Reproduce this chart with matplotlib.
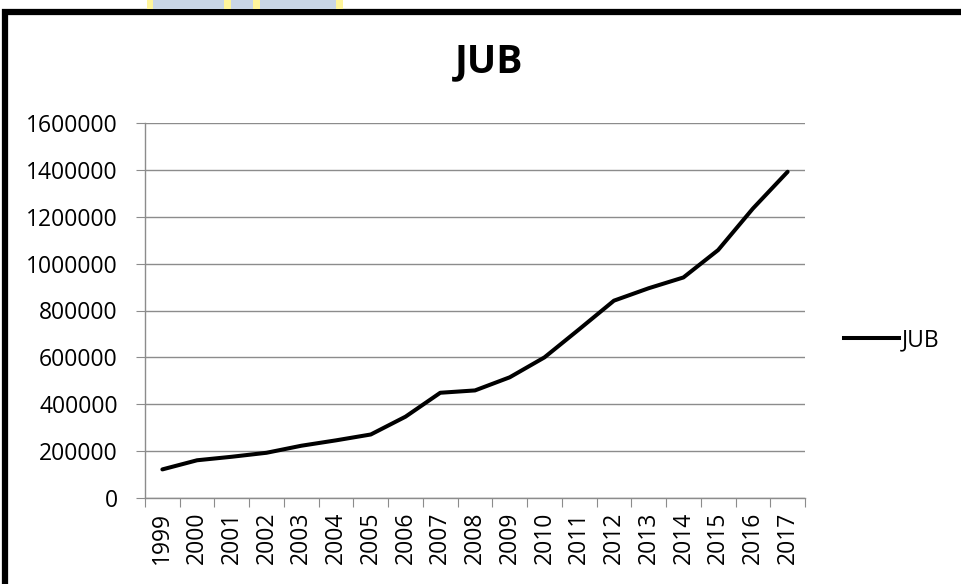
import matplotlib.pyplot as plt
from matplotlib.patches import Rectangle
from matplotlib.lines import Line2D

years = [str(y) for y in range(1999, 2018)]
jub = [122000, 161000, 176000, 193000, 223000, 246000, 271000, 347000, 449000,
       459000, 515000, 600000, 720000, 842000, 895000, 941000, 1058000, 1235000,
       1392000]

plt.rcParams['font.family'] = ['Open Sans', 'DejaVu Sans']

W, H = 962, 584
fig = plt.figure(figsize=(W / 100, H / 100), dpi=100)

# thick black frame, cut off at the right and bottom
fig.patches.append(Rectangle((5 / W, -0.1), 1.2, 1 - 12 / H + 0.1,
                             transform=fig.transFigure, fill=False,
                             edgecolor='black', linewidth=4.5))

# faint banner peeking in at the top
fig.patches.append(Rectangle((150 / W, 1 - 9 / H), 190 / W, 9 / H,
                             transform=fig.transFigure, color='#c9d6e6', lw=0))
for x0, w in [(147, 6), (224, 7), (253, 7), (336, 7)]:
    fig.patches.append(Rectangle((x0 / W, 1 - 9 / H), w / W, 9 / H,
                                 transform=fig.transFigure, color='#fff59a', lw=0))

ax = fig.add_axes([145 / W, 1 - 498 / H, 660 / W, 375 / H])
xs = range(len(years))
ax.plot(xs, jub, color='black', linewidth=2.9, solid_capstyle='round',
        solid_joinstyle='round')

fs = 16.5
ax.set_xlim(-0.5, len(years) - 0.5)
ax.set_ylim(0, 1600000)
ax.set_yticks(range(0, 1600001, 200000))
ax.set_yticklabels([str(v) for v in range(0, 1600001, 200000)], fontsize=fs)
ax.yaxis.grid(True, color='#8c8c8c', linewidth=1)
ax.set_axisbelow(True)

ax.set_xticks([i - 0.5 for i in range(len(years) + 1)])
ax.set_xticklabels([])
ax.set_xticks(list(xs), minor=True)
ax.set_xticklabels(years, minor=True, rotation=90, fontsize=fs)
ax.tick_params(axis='x', which='major', length=6.5, color='#8c8c8c', direction='out')
ax.tick_params(axis='x', which='minor', length=0, pad=10)
ax.tick_params(axis='y', length=6.5, color='#8c8c8c', pad=13)

for s in ['top', 'right']:
    ax.spines[s].set_visible(False)
for s in ['left', 'bottom']:
    ax.spines[s].set_color('#8c8c8c')
    ax.spines[s].set_linewidth(1)

fig.text(489 / W, 1 - 62 / H, 'JUB', ha='center', va='center', fontsize=28,
         fontweight='bold')

handle = Line2D([], [], color='black', linewidth=2.9)
fig.legend([handle], ['JUB'], loc='center left',
           bbox_to_anchor=(823 / W, 1 - 340 / H), frameon=False, fontsize=fs,
           handlelength=2.4, handletextpad=0.15)

fig.savefig('out.png', dpi=100)
